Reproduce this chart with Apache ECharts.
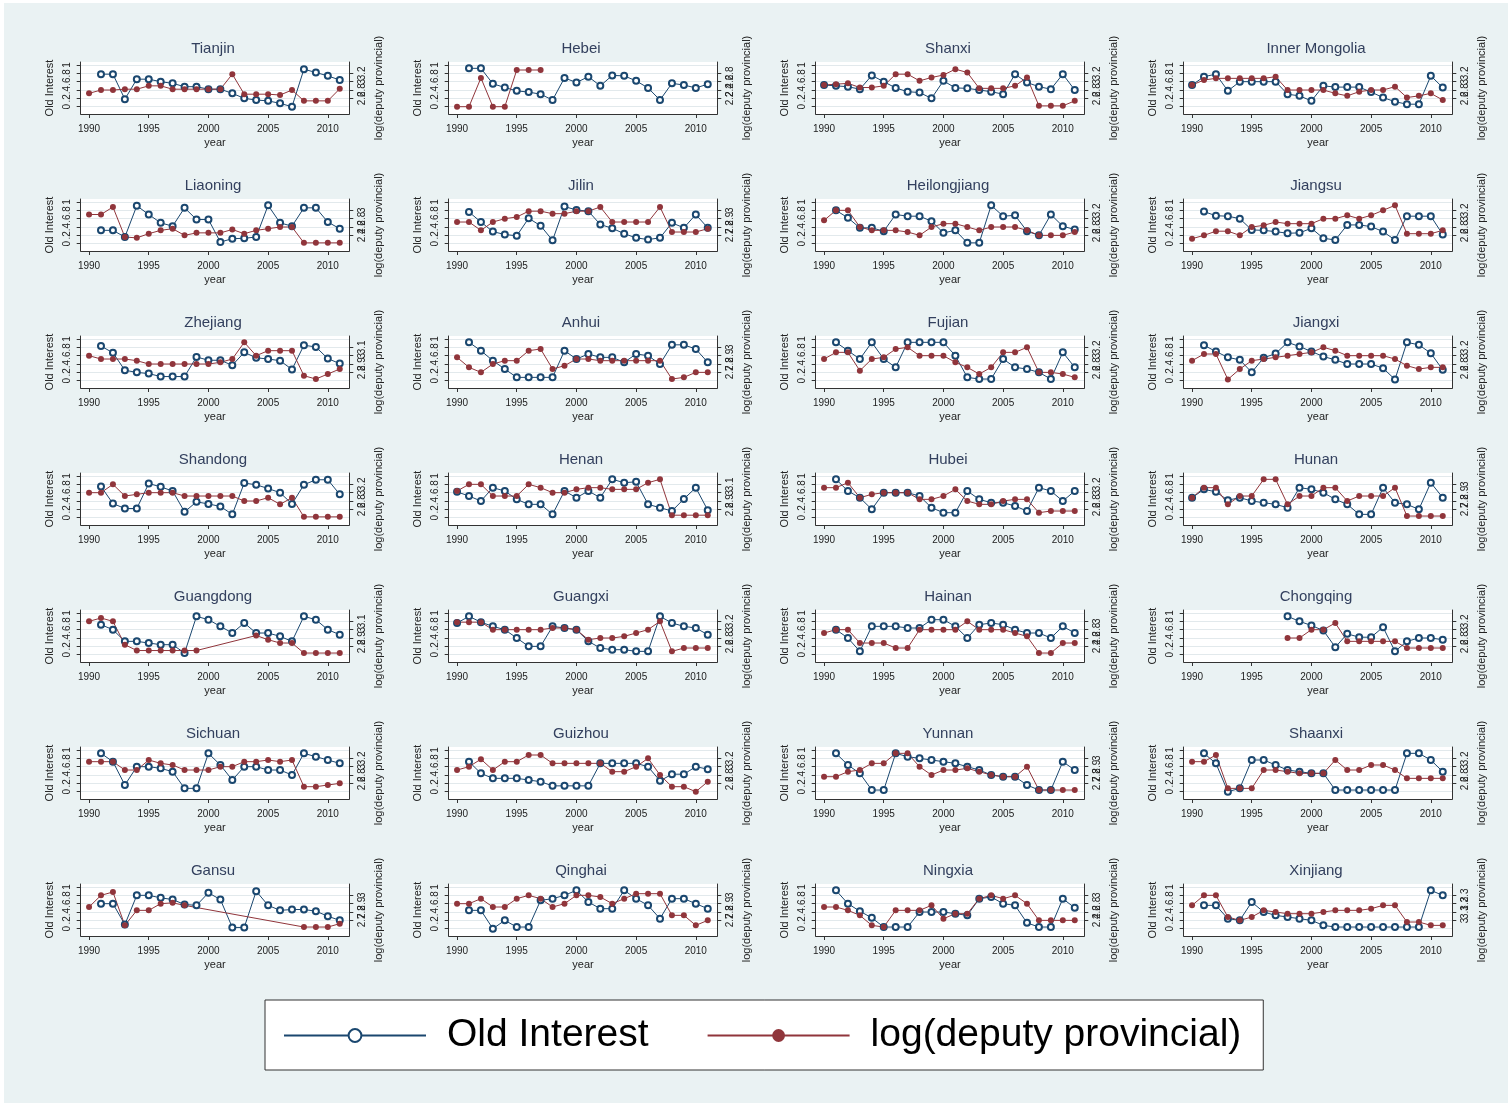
<!DOCTYPE html>
<html><head><meta charset="utf-8">
<script src="https://cdn.jsdelivr.net/npm/echarts@6/dist/echarts.min.js"></script>
<style>
html,body{margin:0;padding:0;background:#fff;}
#bg{position:absolute;left:4px;top:3px;width:1504px;height:1100px;background:#EAF2F3;}
#chart{position:absolute;left:0;top:0;width:1512px;height:1106px;}
</style></head><body><div id="bg"></div><div id="chart"></div>
<script>
const years = [1990,1991,1992,1993,1994,1995,1996,1997,1998,1999,2000,2001,2002,2003,2004,2005,2006,2007,2008,2009,2010,2011];
const provinces = ['Tianjin','Hebei','Shanxi','Inner Mongolia','Liaoning','Jilin','Heilongjiang','Jiangsu','Zhejiang','Anhui','Fujian','Jiangxi','Shandong','Henan','Hubei','Hunan','Guangdong','Guangxi','Hainan','Chongqing','Sichuan','Guizhou','Yunnan','Shaanxi','Gansu','Qinghai','Ningxia','Xinjiang'];
const xTicks = [1990,1995,2000,2005,2010];
const leftTicks = [0,0.2,0.4,0.6,0.8,1];
const rightTicks = [
  [2.4,2.6,2.8,3,3.2,3.4],[2,2.2,2.4,2.6,2.8,3],[2.4,2.6,2.8,3,3.2,3.4],[2.4,2.6,2.8,3,3.2,3.4],
  [2.2,2.4,2.6,2.8,3,3.2],[2.6,2.7,2.8,2.9,3,3.1],[2.4,2.6,2.8,3,3.2,3.4],[2.4,2.6,2.8,3,3.2,3.4],
  [2.7,2.8,2.9,3,3.1,3.2],[2.6,2.7,2.8,2.9,3,3.1],[2.4,2.6,2.8,3,3.2,3.4],[2.4,2.6,2.8,3,3.2,3.4],
  [2.4,2.6,2.8,3,3.2,3.4],[2.7,2.8,2.9,3,3.1,3.2],[2.4,2.6,2.8,3,3.2,3.4],[2.6,2.7,2.8,2.9,3,3.1],
  [2.7,2.8,2.9,3,3.1,3.2],[2.4,2.6,2.8,3,3.2,3.4],[2.2,2.4,2.6,2.8,3,3.2],[2.4,2.6,2.8,3,3.2,3.4],
  [2.4,2.6,2.8,3,3.2,3.4],[2.4,2.6,2.8,3,3.2,3.4],[2.6,2.7,2.8,2.9,3,3.1],[2.4,2.6,2.8,3,3.2,3.4],
  [2.6,2.7,2.8,2.9,3,3.1],[2.6,2.7,2.8,2.9,3,3.1],[2.2,2.4,2.6,2.8,3,3.2],[2.9,3,3.1,3.2,3.3,3.4]
];

const old_Tianjin = [null,.78,.78,.18,.66,.66,.60,.56,.48,.48,.42,.42,.32,.20,.16,.14,.08,.00,.90,.82,.74,.64];
const dep_Tianjin = [2.72,2.80,2.80,2.82,2.82,2.90,2.90,2.82,2.82,2.82,2.82,2.82,3.18,2.70,2.70,2.70,2.68,2.80,2.54,2.54,2.54,2.83];
const old_Hebei = [null,.92,.92,.55,.46,.38,.35,.30,.16,.69,.58,.72,.50,.75,.74,.62,.45,.16,.56,.52,.45,.54];
const dep_Hebei = [2.00,2.00,2.69,2.00,2.00,2.88,2.88,2.88,null,null,null,null,null,null,null,null,null,null,null,null,null,null];
const old_Shanxi = [.52,.50,.48,.42,.75,.60,.45,.36,.34,.20,.62,.45,.44,.40,.36,.30,.78,.58,.48,.42,.78,.40];
const dep_Shanxi = [2.92,2.94,2.96,2.86,2.86,2.90,3.18,3.18,3.02,3.10,3.16,3.30,3.22,2.84,2.84,2.84,2.90,3.10,2.42,2.42,2.42,2.54];
const old_InnerMongolia = [.52,.72,.78,.38,.60,.60,.60,.60,.30,.26,.14,.50,.47,.47,.47,.35,.22,.12,.06,.06,.74,.46];
const dep_InnerMongolia = [2.92,3.04,3.08,3.08,3.08,3.08,3.08,3.12,2.80,2.80,2.80,2.80,2.72,2.66,2.76,2.80,2.80,2.88,2.62,2.66,2.72,2.56];
const old_Liaoning = [null,.32,.32,.16,.91,.70,.50,.42,.86,.58,.58,.04,.12,.13,.16,.92,.50,.42,.86,.86,.52,.36];
const dep_Liaoning = [2.90,2.90,3.08,2.36,2.34,2.44,2.52,2.56,2.40,2.46,2.46,2.46,2.54,2.44,2.52,2.56,2.60,2.60,2.22,2.22,2.22,2.22];
const old_Jilin = [null,.76,.52,.29,.22,.19,.61,.43,.08,.89,.81,.78,.46,.37,.24,.14,.10,.14,.50,.38,.70,.38];
const dep_Jilin = [2.86,2.86,2.76,2.86,2.90,2.92,2.99,2.99,2.96,2.96,2.99,2.99,3.04,2.86,2.86,2.86,2.86,3.04,2.74,2.74,2.74,2.78];
const old_Heilongjiang = [null,.80,.62,.38,.38,.30,.70,.66,.66,.54,.26,.32,.02,.02,.92,.66,.68,.30,.20,.70,.42,.34];
const dep_Heilongjiang = [2.96,3.20,3.20,2.80,2.72,2.72,2.72,2.68,2.60,2.80,2.88,2.88,2.80,2.72,2.80,2.80,2.80,2.72,2.60,2.60,2.60,2.68];
const old_Jiangsu = [null,.77,.67,.66,.60,.33,.32,.29,.25,.26,.37,.13,.09,.45,.45,.41,.29,.09,.66,.66,.66,.22];
const dep_Jiangsu = [2.52,2.60,2.70,2.70,2.60,2.80,2.84,2.92,2.88,2.88,2.88,3.00,3.00,3.08,3.00,3.08,3.20,3.32,2.64,2.64,2.64,2.72];
const old_Zhejiang = [null,.83,.67,.25,.20,.17,.10,.10,.10,.57,.49,.49,.37,.68,.55,.52,.48,.27,.85,.81,.53,.41];
const dep_Zhejiang = [3.00,2.96,2.96,2.96,2.94,2.90,2.90,2.90,2.90,2.90,2.90,2.92,2.96,3.16,3.00,3.06,3.06,3.06,2.76,2.72,2.78,2.84];
const old_Anhui = [null,.92,.72,.48,.28,.08,.08,.08,.08,.72,.52,.64,.56,.56,.44,.64,.60,.40,.86,.86,.76,.44];
const dep_Anhui = [2.88,2.76,2.70,2.80,2.84,2.84,2.96,2.98,2.74,2.78,2.86,2.86,2.84,2.84,2.84,2.84,2.84,2.84,2.62,2.64,2.70,2.70];
const old_Fujian = [null,.92,.72,.52,.92,.52,.32,.92,.92,.92,.92,.60,.08,.04,.04,.52,.32,.28,.20,.04,.68,.32];
const dep_Fujian = [2.92,3.08,3.08,2.64,2.92,2.96,3.16,3.20,3.00,3.00,3.00,2.84,2.72,2.56,2.72,3.08,3.08,3.20,2.60,2.60,2.56,2.48];
const old_Jiangxi = [null,.85,.70,.56,.50,.20,.55,.65,.92,.82,.70,.58,.50,.40,.40,.40,.30,.03,.92,.86,.66,.26];
const dep_Jiangxi = [2.88,3.04,3.04,2.43,2.68,2.88,2.92,2.96,3.00,3.04,3.08,3.20,3.12,3.00,3.00,3.00,3.00,2.92,2.76,2.68,2.72,2.72];
const old_Shandong = [null,.75,.34,.22,.22,.82,.74,.64,.14,.38,.33,.27,.08,.83,.79,.70,.60,.33,.79,.91,.91,.56];
const dep_Shandong = [3.00,3.00,3.20,2.92,2.96,3.00,3.00,3.00,2.92,2.92,2.92,2.92,2.92,2.80,2.80,2.88,2.72,2.88,2.42,2.42,2.42,2.42];
const old_Henan = [.62,.52,.40,.72,.64,.44,.32,.32,.08,.64,.48,.64,.48,.92,.84,.86,.32,.24,.16,.45,.72,.18];
const dep_Henan = [3.02,3.10,3.10,2.96,2.96,2.96,3.10,3.06,3.00,3.00,3.04,3.06,3.06,3.04,3.04,3.04,3.12,3.16,2.73,2.73,2.73,2.73];
const old_Hubei = [null,.92,.64,.48,.20,.60,.60,.60,.52,.24,.12,.12,.64,.44,.36,.36,.28,.16,.72,.64,.40,.64];
const dep_Hubei = [3.12,3.12,3.24,2.88,2.96,3.00,3.00,3.00,2.84,2.84,2.92,3.08,2.80,2.72,2.72,2.80,2.84,2.84,2.52,2.56,2.56,2.56];
const old_Hunan = [.48,.68,.62,.42,.48,.40,.36,.32,.24,.72,.68,.60,.44,.32,.08,.08,.72,.36,.32,.20,.84,.48];
const dep_Hunan = [2.84,2.96,2.96,2.76,2.86,2.86,3.06,3.06,2.76,2.86,2.86,2.96,2.96,2.80,2.86,2.86,2.86,2.96,2.62,2.62,2.62,2.62];
const old_Guangdong = [null,.72,.60,.32,.32,.28,.24,.24,.04,.92,.84,.68,.52,.76,.52,.52,.44,.32,.92,.84,.60,.48];
const dep_Guangdong = [3.10,3.14,3.10,2.82,2.75,2.75,2.75,2.75,2.75,2.75,null,null,null,null,2.93,2.88,2.84,2.84,2.72,2.72,2.72,2.72];
const old_Guangxi = [.76,.92,.78,.68,.60,.40,.20,.20,.68,.64,.60,.32,.16,.12,.12,.08,.08,.92,.76,.68,.64,.48];
const dep_Guangxi = [3.18,3.18,3.18,3.00,3.00,3.00,3.00,3.00,3.04,3.04,3.00,2.76,2.80,2.80,2.84,2.92,3.00,3.20,2.48,2.56,2.56,2.56];
const old_Hainan = [null,.60,.40,.08,.68,.68,.68,.64,.64,.84,.84,.68,.40,.72,.76,.72,.60,.52,.52,.40,.68,.52];
const dep_Hainan = [2.72,2.80,2.80,2.48,2.48,2.48,2.36,2.36,2.80,2.80,2.80,2.80,3.00,2.80,2.80,2.80,2.72,2.64,2.24,2.24,2.48,2.48];
const old_Chongqing = [null,null,null,null,null,null,null,null,.92,.80,.70,.58,.18,.50,.42,.42,.66,.08,.32,.40,.40,.36];
const dep_Chongqing = [null,null,null,null,null,null,null,null,2.80,2.80,3.00,3.00,3.16,2.72,2.72,2.72,2.72,2.72,2.56,2.56,2.56,2.56];
const old_Sichuan = [null,.92,.72,.16,.60,.60,.56,.48,.08,.08,.92,.64,.28,.60,.60,.52,.52,.40,.92,.84,.76,.68];
const dep_Sichuan = [3.12,3.12,3.12,2.92,2.92,3.16,3.08,3.04,2.92,2.92,2.92,3.00,3.00,3.12,3.12,3.16,3.12,3.16,2.52,2.52,2.56,2.60];
const old_Guizhou = [null,.72,.44,.32,.32,.32,.28,.24,.14,.14,.14,.14,.68,.68,.68,.68,.60,.26,.42,.42,.60,.54];
const dep_Guizhou = [2.92,3.00,3.18,2.92,3.12,3.12,3.28,3.28,3.08,3.08,3.08,3.08,3.08,2.88,2.88,3.00,3.20,2.80,2.52,2.52,2.40,2.64];
const old_Yunnan = [null,.92,.64,.44,.04,.04,.92,.84,.80,.76,.72,.68,.60,.52,.40,.36,.36,.16,.04,.04,.72,.52];
const dep_Yunnan = [2.78,2.78,2.84,2.86,2.94,2.94,3.06,3.06,2.90,2.80,2.86,2.86,2.88,2.84,2.80,2.78,2.78,2.90,2.62,2.62,2.62,2.62];
const old_Shaanxi = [null,.92,.68,.00,.08,.76,.76,.64,.52,.48,.44,.44,.04,.04,.04,.04,.04,.04,.92,.92,.76,.48];
const dep_Shaanxi = [3.12,3.12,3.28,2.48,2.48,2.48,2.92,2.92,2.88,2.84,2.84,2.84,3.16,2.92,2.92,3.04,3.04,2.92,2.72,2.72,2.72,2.72];
const old_Gansu = [null,.60,.60,.10,.80,.80,.74,.70,.58,.56,.86,.70,.03,.03,.90,.56,.44,.46,.46,.42,.30,.20];
const dep_Gansu = [2.86,3.00,3.04,2.64,2.82,2.82,2.90,2.91,2.88,null,null,null,null,null,null,null,null,null,2.62,2.62,2.62,2.66];
const old_Qinghai = [null,.44,.44,.00,.20,.04,.04,.68,.72,.80,.92,.64,.48,.48,.92,.72,.56,.24,.72,.72,.60,.48];
const dep_Qinghai = [2.90,2.90,2.96,2.86,2.86,2.96,3.00,2.96,2.86,2.90,3.00,3.00,2.98,2.90,2.96,3.02,3.02,3.02,2.76,2.76,2.64,2.70];
const old_Ningxia = [null,.92,.60,.42,.26,.04,.04,.04,.40,.40,.40,.36,.32,.72,.76,.60,.56,.14,.04,.04,.72,.50];
const dep_Ningxia = [2.72,2.72,2.64,2.52,2.28,2.24,2.64,2.64,2.64,2.76,2.44,2.56,2.56,2.92,3.00,2.92,3.00,2.80,2.40,2.40,2.40,2.40];
const old_Xinjiang = [null,.56,.56,.24,.20,.64,.40,.32,.28,.24,.20,.08,.04,.04,.04,.04,.04,.04,.04,.04,.92,.80];
const dep_Xinjiang = [3.18,3.30,3.30,3.04,3.00,3.04,3.12,3.10,3.08,3.08,3.08,3.10,3.12,3.12,3.12,3.14,3.18,3.18,2.98,2.98,2.94,2.94];

const panelData = [
  [old_Tianjin, dep_Tianjin],[old_Hebei, dep_Hebei],[old_Shanxi, dep_Shanxi],[old_InnerMongolia, dep_InnerMongolia],
  [old_Liaoning, dep_Liaoning],[old_Jilin, dep_Jilin],[old_Heilongjiang, dep_Heilongjiang],[old_Jiangsu, dep_Jiangsu],
  [old_Zhejiang, dep_Zhejiang],[old_Anhui, dep_Anhui],[old_Fujian, dep_Fujian],[old_Jiangxi, dep_Jiangxi],
  [old_Shandong, dep_Shandong],[old_Henan, dep_Henan],[old_Hubei, dep_Hubei],[old_Hunan, dep_Hunan],
  [old_Guangdong, dep_Guangdong],[old_Guangxi, dep_Guangxi],[old_Hainan, dep_Hainan],[old_Chongqing, dep_Chongqing],
  [old_Sichuan, dep_Sichuan],[old_Guizhou, dep_Guizhou],[old_Yunnan, dep_Yunnan],[old_Shaanxi, dep_Shaanxi],
  [old_Gansu, dep_Gansu],[old_Qinghai, dep_Qinghai],[old_Ningxia, dep_Ningxia],[old_Xinjiang, dep_Xinjiang]
];

const FONT = '"Liberation Sans", Arial, sans-serif';
const BLUE = '#1A476F', RED = '#90353B', AXIS = '#333333', TXT = '#222222';
function fmt(v){
  let s = String(Math.round(v*100)/100);
  if (s.indexOf('0.') === 0) s = s.slice(1);
  return s;
}
function fmtYear(v){ return String(Math.round(v)); }
const colX = [0, 368, 735, 1103];
const rowH = 137;
const grids = [], xAxes = [], yAxes = [], series = [], graphics = [];
provinces.forEach((p, i) => {
  const r = Math.floor(i / 4), c = i % 4;
  const ox = colX[c], oy = r * rowH;
  grids.push({left: 80.7 + ox, top: 62 + oy, width: 268.6, height: 52, show: true,
    backgroundColor: '#ffffff', borderWidth: 0});
  xAxes.push({gridIndex: i, type: 'value', min: 1989.3, max: 2011.8,
    name: 'year', nameLocation: 'middle', nameGap: 23,
    nameTextStyle: {fontSize: 11, color: TXT, fontFamily: FONT},
    axisLine: {onZero: false, lineStyle: {color: AXIS, width: 1}},
    axisTick: {customValues: xTicks, length: 4, lineStyle: {color: AXIS}},
    axisLabel: {customValues: xTicks, fontSize: 10, color: TXT, fontFamily: FONT, margin: 10, formatter: fmtYear},
    splitLine: {show: false}});
  const lt = leftTicks, ls = lt[lt.length - 1] - lt[0];
  yAxes.push({gridIndex: i, type: 'value', position: 'left',
    min: lt[0] - 0.175 * ls, max: lt[lt.length - 1] + 0.072 * ls,
    name: 'Old Interest', nameLocation: 'middle', nameRotate: 90, nameGap: 25,
    nameTextStyle: {fontSize: 11, color: TXT, fontFamily: FONT},
    axisLine: {show: true, onZero: false, lineStyle: {color: AXIS, width: 1}},
    axisTick: {show: true, customValues: lt, length: 4, lineStyle: {color: AXIS}},
    axisLabel: {customValues: lt, rotate: 90, fontSize: 10, color: TXT, fontFamily: FONT, margin: 8, formatter: fmt},
    splitLine: {show: true, lineStyle: {color: '#E2E9EC', width: 1}}});
  const rt = rightTicks[i], rs = rt[rt.length - 1] - rt[0];
  yAxes.push({gridIndex: i, type: 'value', position: 'right',
    min: rt[0] - 0.175 * rs, max: rt[rt.length - 1] + 0.072 * rs,
    name: 'log(deputy provincial)', nameLocation: 'middle', nameRotate: 90, nameGap: 24,
    nameTextStyle: {fontSize: 11, color: TXT, fontFamily: FONT},
    axisLine: {show: true, onZero: false, lineStyle: {color: AXIS, width: 1}},
    axisTick: {show: true, customValues: rt, length: 4, lineStyle: {color: AXIS}},
    axisLabel: {customValues: rt, rotate: 90, fontSize: 10, color: TXT, fontFamily: FONT, margin: 8, formatter: fmt},
    splitLine: {show: false}});
  const [oldArr, depArr] = panelData[i];
  series.push({type: 'line', name: 'Old Interest', xAxisIndex: i, yAxisIndex: 2 * i,
    data: years.map((y, k) => [y, oldArr[k] === null ? '-' : oldArr[k]]),
    connectNulls: true, symbol: 'emptyCircle', symbolSize: 6, showSymbol: true,
    lineStyle: {color: BLUE, width: 1}, itemStyle: {color: BLUE, borderWidth: 1},
    emphasis: {disabled: true}, silent: true});
  series.push({type: 'line', name: 'log(deputy provincial)', xAxisIndex: i, yAxisIndex: 2 * i + 1,
    data: years.map((y, k) => [y, depArr[k] === null ? '-' : depArr[k]]),
    connectNulls: true, symbol: 'circle', symbolSize: 6, showSymbol: true,
    lineStyle: {color: RED, width: 1}, itemStyle: {color: RED},
    emphasis: {disabled: true}, silent: true});
  graphics.push({type: 'text', x: 213 + ox, y: 49 + oy,
    style: {text: p, fill: '#33405E', fontSize: 15, fontFamily: FONT, align: 'center', verticalAlign: 'middle'}});
});

const chart = echarts.init(document.getElementById('chart'), null, {renderer: 'canvas'});
chart.setOption({
  animation: false,
  grid: grids, xAxis: xAxes, yAxis: yAxes, series: series,
  graphic: graphics,
  legend: {
    data: ['Old Interest', 'log(deputy provincial)'],
    left: 265, top: 1000, orient: 'horizontal',
    padding: [16, 22, 15, 18], itemGap: 58, itemWidth: 142, itemHeight: 16,
    backgroundColor: '#ffffff', borderColor: '#333333', borderWidth: 1,
    lineStyle: {width: 2}, itemStyle: {borderWidth: 2},
    textStyle: {fontSize: 39, color: '#000', fontFamily: FONT, padding: [0, 0, 0, 16]},
    selectedMode: false
  }
});
</script></body></html>
